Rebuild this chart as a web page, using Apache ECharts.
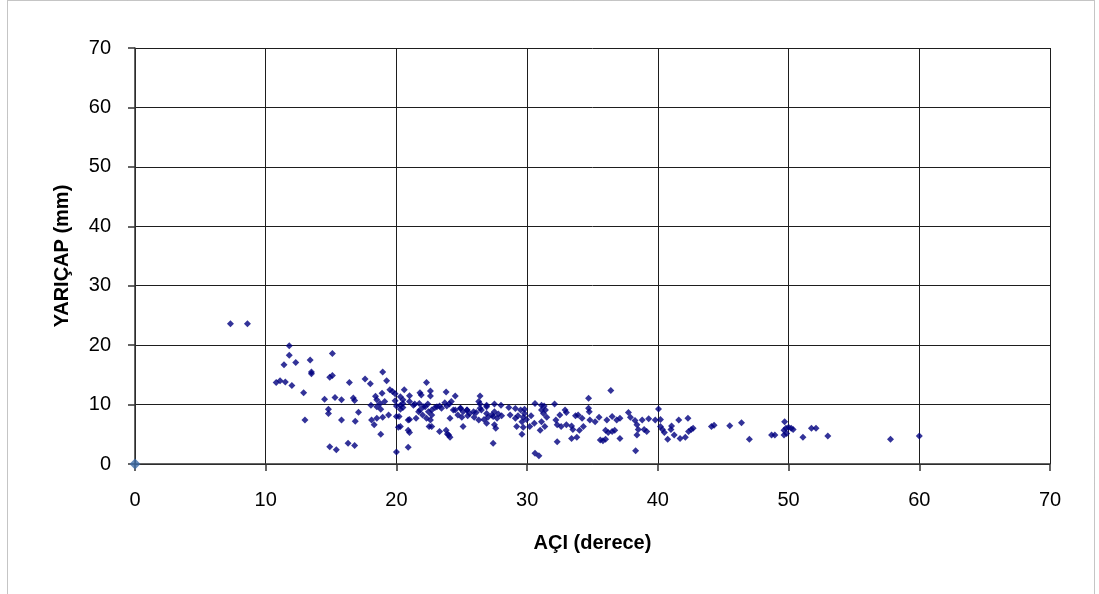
<!DOCTYPE html>
<html>
<head>
<meta charset="utf-8">
<script src="https://cdn.jsdelivr.net/npm/echarts@6/dist/echarts.min.js"></script>
<style>
  html, body { margin: 0; padding: 0; background: #fff; }
  #chart { width: 1099px; height: 594px; }
</style>
</head>
<body>
<div id="chart"></div>
<script>
// AÇI (derece) / YARIÇAP (mm) olcum noktalari, [aci, yaricap]
const olcumler = [
  [7.3, 23.6], [8.6, 23.6],
  [10.8, 13.7], [11.1, 14.0], [11.5, 13.8], [11.4, 16.7], [11.8, 19.9], [11.8, 18.3],
  [12.0, 13.2], [12.3, 17.1], [12.9, 12.0], [13.0, 7.4], [13.4, 17.5], [13.5, 15.5], [13.5, 15.2],
  [14.5, 10.9], [14.8, 9.2], [14.8, 8.5], [14.9, 14.6], [15.1, 14.9], [15.1, 18.6], [14.9, 2.9],
  [15.4, 2.4], [15.3, 11.2], [15.8, 10.8], [15.8, 7.4], [16.4, 13.7], [16.7, 11.1], [16.8, 10.7],
  [16.3, 3.5], [16.8, 3.1], [16.85, 7.2], [17.1, 8.7],
  [17.6, 14.3], [18.0, 13.5], [18.95, 15.5], [19.25, 14.0], [18.4, 11.4], [18.5, 10.8], [18.9, 11.9],
  [19.1, 10.5], [19.5, 12.5], [19.7, 12.2], [19.9, 11.8], [19.9, 10.65], [18.05, 9.9], [18.5, 9.65],
  [18.8, 9.2], [18.75, 10.2], [18.1, 7.4], [18.5, 7.7], [18.95, 7.85], [19.4, 8.25], [18.3, 6.6],
  [18.8, 5.0], [20.0, 2.0],
  [20.0, 9.75], [20.3, 9.2], [20.5, 9.5], [20.3, 11.3], [20.5, 10.8], [20.6, 12.5], [21.0, 11.5],
  [21.0, 10.5], [21.4, 10.1], [21.8, 9.1], [22.05, 9.65], [22.4, 10.1], [22.7, 9.1], [22.95, 9.5],
  [23.3, 9.75], [23.7, 10.3], [24.05, 10.1], [21.8, 12.0], [21.9, 11.6], [22.3, 13.7], [22.6, 12.3],
  [22.6, 11.45], [23.8, 12.1], [20.2, 8.0], [21.0, 7.5], [21.7, 8.8], [22.0, 8.25], [22.3, 7.7],
  [22.6, 7.4], [20.15, 6.2], [20.9, 5.7], [21.0, 5.3], [22.5, 6.3], [23.3, 5.45], [23.8, 5.7],
  [23.9, 5.05], [24.1, 4.5], [20.9, 2.8],
  [20.3, 9.9], [20.5, 10.2], [21.3, 9.9], [21.75, 10.2], [22.2, 9.65], [22.45, 8.8], [22.7, 8.25],
  [23.1, 9.65], [23.45, 9.4], [23.85, 9.75], [20.0, 8.0], [20.9, 7.4], [21.5, 7.7], [22.7, 6.3],
  [24.0, 4.9], [20.3, 6.3],
  [24.2, 10.5], [24.5, 11.45], [24.1, 7.7], [25.1, 6.3], [24.35, 9.1], [24.9, 9.4], [25.4, 9.1],
  [25.9, 8.8], [26.4, 9.4], [26.9, 9.65], [27.4, 8.0],
  [24.5, 9.1], [24.9, 9.4], [25.1, 8.8], [25.4, 9.1], [25.6, 8.5], [24.7, 8.25], [25.0, 7.85],
  [25.45, 8.1], [25.95, 7.85], [26.1, 8.65], [26.5, 9.1], [26.9, 8.5], [27.3, 8.25], [27.5, 8.8],
  [27.8, 8.4], [28.05, 8.1], [27.7, 7.7], [27.0, 7.85], [26.7, 7.5], [26.3, 7.4], [28.7, 8.25],
  [29.1, 7.7], [29.3, 8.1], [29.7, 7.85], [29.8, 8.5], [29.6, 7.1], [29.95, 7.5],
  [26.4, 11.45], [26.3, 10.5], [26.4, 10.1], [26.9, 9.9], [27.5, 10.1], [28.0, 9.9], [28.6, 9.5],
  [29.1, 9.35], [29.5, 9.1], [29.8, 9.2], [26.9, 6.85], [27.5, 6.6], [27.6, 6.0], [29.2, 6.3],
  [29.7, 6.2], [29.6, 5.0], [27.4, 3.5],
  [30.6, 10.2], [31.1, 9.9], [30.3, 8.1], [30.55, 6.85], [30.2, 6.3], [31.1, 9.1], [30.6, 1.8],
  [30.9, 1.4], [32.1, 10.1], [31.3, 9.75], [31.4, 9.1], [31.25, 8.5], [31.5, 7.85], [31.1, 7.1],
  [31.35, 6.3], [31.0, 5.7],
  [32.9, 9.1], [33.0, 8.65], [33.7, 8.1], [33.9, 8.25], [34.2, 7.7], [32.5, 8.25], [32.2, 7.4],
  [32.3, 6.6], [32.6, 6.3], [33.0, 6.6], [33.4, 6.4], [33.5, 5.8], [34.0, 5.7], [34.3, 6.3],
  [34.8, 7.4], [35.2, 7.1], [35.5, 7.85], [36.1, 7.4], [36.5, 8.0], [36.85, 7.4], [37.1, 7.7],
  [37.75, 8.65], [37.9, 7.85], [38.25, 7.3], [38.4, 6.6], [34.7, 11.05], [34.7, 9.4], [34.75, 8.8],
  [36.4, 12.35], [36.0, 5.7], [36.2, 5.3], [36.5, 5.45], [36.7, 5.7], [35.6, 4.05], [35.8, 3.9],
  [36.0, 4.15], [37.1, 4.3], [32.3, 3.75], [33.4, 4.3], [33.8, 4.5], [38.3, 2.25], [38.4, 4.9],
  [40.05, 9.25], [38.8, 7.4], [39.3, 7.6], [39.8, 7.4], [40.2, 7.5], [38.5, 5.8], [38.95, 5.8],
  [39.15, 5.45], [40.2, 6.3], [40.35, 5.8], [41.05, 6.4], [41.0, 5.8], [41.6, 7.4], [42.3, 7.7],
  [40.5, 5.3], [40.75, 4.15], [41.25, 4.9], [41.7, 4.3], [42.1, 4.5], [42.35, 5.45], [42.55, 5.8],
  [42.7, 6.0],
  [44.1, 6.3], [44.3, 6.5], [45.5, 6.45], [46.4, 6.95], [47.0, 4.15], [48.7, 4.9], [48.95, 4.9],
  [49.7, 7.1], [49.65, 5.7], [49.8, 6.0], [50.0, 6.2], [50.2, 6.0], [50.35, 5.8], [49.65, 4.9],
  [49.85, 5.15], [51.1, 4.5], [51.75, 6.0], [52.1, 6.0], [53.0, 4.7], [57.8, 4.15], [60.0, 4.7]
];
const orijin = [[0, 0]];

const xEksenAdi = 'AÇI (derece)';
const yEksenAdi = 'YARIÇAP (mm)';

const chart = echarts.init(document.getElementById('chart'));

const fontAile = 'Liberation Sans, Arial, sans-serif';
const gridLine = { lineStyle: { color: '#1e1e1e', width: 1 } };
const labelStyle = { fontSize: 20, color: '#000', fontFamily: fontAile };

const option = {
  backgroundColor: '#ffffff',
  animation: false,
  grid: { left: 135, right: 49, top: 48, bottom: 130 },
  graphic: [{
    type: 'rect',
    shape: { x: 7.5, y: 0.5, width: 1087, height: 610 },
    style: { fill: 'none', stroke: '#8a8a8a', lineWidth: 1, lineDash: [1, 1] }
  }],
  xAxis: {
    type: 'value',
    min: 0, max: 70, interval: 10,
    name: xEksenAdi,
    nameLocation: 'middle',
    nameGap: 69,
    nameTextStyle: { fontSize: 20, fontWeight: 'bold', color: '#000', fontFamily: fontAile },
    axisLine: { show: true, onZero: false, lineStyle: { color: '#333', width: 1.5 } },
    axisTick: { show: true, length: 7, lineStyle: { color: '#333', width: 1.5 } },
    axisLabel: Object.assign({ margin: 26 }, labelStyle),
    splitLine: gridLine
  },
  yAxis: {
    type: 'value',
    min: 0, max: 70, interval: 10,
    name: yEksenAdi,
    nameLocation: 'middle',
    nameGap: 63,
    nameTextStyle: { fontSize: 20, fontWeight: 'bold', color: '#000', fontFamily: fontAile },
    axisLine: { show: true, lineStyle: { color: '#333', width: 1.5 } },
    axisTick: { show: true, length: 7, lineStyle: { color: '#333', width: 1.5 } },
    axisLabel: Object.assign({ margin: 24 }, labelStyle),
    splitLine: gridLine
  },
  series: [
    {
      name: 'olcum',
      type: 'scatter',
      symbol: 'diamond',
      symbolSize: 7,
      itemStyle: { color: '#000080' },
      data: olcumler
    },
    {
      name: 'orijin',
      type: 'scatter',
      symbol: 'diamond',
      symbolSize: 11,
      itemStyle: { color: '#3c6ba8' },
      data: orijin
    }
  ]
};

chart.setOption(option);
</script>
</body>
</html>
